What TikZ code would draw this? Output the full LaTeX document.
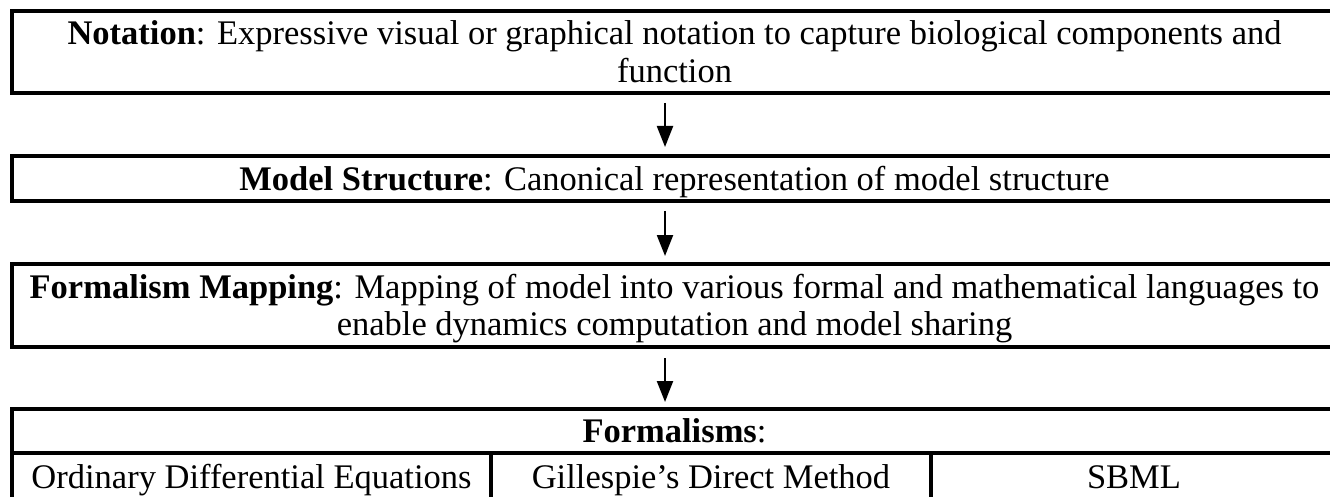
\documentclass[tikz,border=0pt]{standalone}
\usepackage{fontspec}
\setmainfont{Liberation Serif}
\usetikzlibrary{arrows.meta}
\begin{document}
\begin{tikzpicture}[x=1pt,y=-1pt,
  box/.style={draw=black, line width=4pt, rectangle, inner sep=0pt, outer sep=0pt,
    align=center, text height=23pt, text depth=0pt,
    font=\fontsize{34.5}{37.5}\selectfont},
  twoline/.style={text height=60.5pt},
  arr/.style={line width=2.2pt, -{Triangle[length=21pt,width=16pt]}}]
\useasboundingbox (0,0) rectangle (1330,497);
\fill[white] (0,0) rectangle (1330,497);

% stacked stages
\node[box, twoline, minimum width=1325pt, minimum height=82pt] (n1) at (674.5,52)
  {\textbf{Notation}: Expressive visual or graphical notation to capture biological components and\\function};
\node[box, minimum width=1325pt, minimum height=45pt] (n2) at (674.5,178.5)
  {\textbf{Model Structure}: Canonical representation of model structure};
\node[box, twoline, minimum width=1325pt, minimum height=83pt] (n3) at (674.5,305.5)
  {\textbf{Formalism Mapping}: Mapping of model into various formal and mathematical languages to\\enable dynamics computation and model sharing};

% table of formalisms
\node[box, minimum width=1325pt, minimum height=44pt] (hdr) at (674.5,431)
  {\textbf{Formalisms}:};
\node[box, minimum width=479pt, minimum height=48pt] (c1) at (251.5,477)
  {Ordinary Differential Equations};
\node[box, minimum width=440pt, minimum height=48pt] (c2) at (711,477)
  {Gillespie’s Direct Method};
\node[box, minimum width=406pt, minimum height=48pt] (c3) at (1134,477)
  {SBML};

% flow arrows
\draw[arr] ([xshift=-9.5pt,yshift=-10pt]n1.south) -- ([xshift=-9.5pt,yshift=9pt]n2.north);
\draw[arr] ([xshift=-9.5pt,yshift=-10pt]n2.south) -- ([xshift=-9.5pt,yshift=8pt]n3.north);
\draw[arr] ([xshift=-9.5pt,yshift=-11pt]n3.south) -- ([xshift=-9.5pt,yshift=7pt]hdr.north);
\end{tikzpicture}
\end{document}
